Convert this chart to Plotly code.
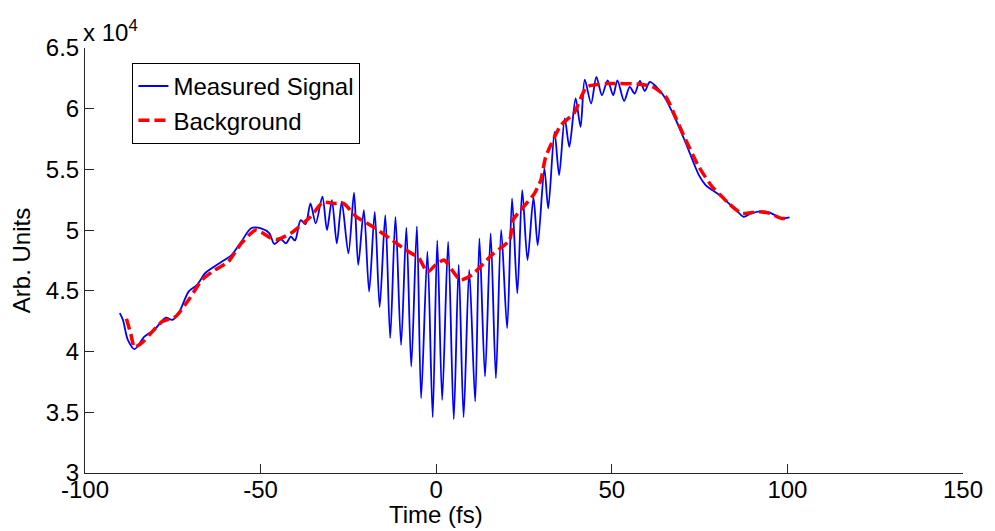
import plotly.graph_objects as go

# Measured signal: time in fs, signal in arb. units
time_measured = [
    -90.1, -89.2, -87.8, -85.9, -83.1, -80.3, -77.0, -75.2, -73.3, -70.5, -68.1, -65.8,
    -63.9, -61.1, -58.3, -55.5, -52.7, -49.9, -47.5, -46.1, -44.2, -42.8, -41.4, -40.2,
    -38.6, -37.2, -35.8, -34.3, -32.4, -31.1, -29.7, -28.3, -26.9, -25.0, -23.4, -22.2,
    -20.6, -19.1, -17.5, -16.1, -14.5, -13.1, -11.6, -10.0, -8.5, -7.1, -5.5, -4.3,
    -2.5, -1.0, 0.3, 1.7, 3.4, 5.0, 6.4, 7.8, 9.4, 11.1, 12.3, 13.9,
    15.5, 17.0, 18.5, 20.2, 21.6, 23.1, 24.5, 26.0, 27.7, 28.9, 30.8, 31.9,
    33.7, 35.0, 36.6, 37.9, 39.7, 41.1, 42.3, 44.1, 45.6, 47.2, 48.8, 50.4,
    51.6, 53.5, 55.1, 56.5, 58.0, 59.4, 60.8, 63.0, 65.0, 68.3, 71.1, 74.8,
    76.7, 78.6, 81.4, 83.3, 85.0, 87.5, 89.5, 91.7, 95.0, 98.3, 100.6,
]
signal_measured = [
    43160, 42610, 40960, 40200, 41230, 41780, 42800, 42610, 43160, 44940, 45490, 46450,
    46860, 47400, 47950, 49050, 50150, 50150, 49740, 48860, 49240, 48910, 49460, 49150,
    50830, 50500, 52200, 50560, 52750, 50010, 52480, 48910, 52340, 48090, 53080, 47130,
    51650, 44940, 51510, 43650, 51240, 41100, 51100, 40550, 50200, 38770, 50300, 36170,
    48220, 34600, 49160, 36030, 49050, 34440, 47130, 34600, 46720, 35890, 49330, 37950,
    49740, 37810, 50010, 41920, 52620, 44800, 53300, 47540, 52680, 48770, 55080, 51790,
    58090, 54530, 59200, 56860, 60840, 58500, 62400, 60430, 62620, 61110, 62340, 61110,
    62340, 60640, 61790, 61250, 62290, 61460, 62200, 61700, 60970, 59050, 57140, 54530,
    53710, 53300, 52750, 52200, 51800, 51100, 51350, 51520, 51450, 50970, 51050,
]

# Background estimate
time_background = [
    -88.2, -87.0, -85.9, -83.5, -81.7, -78.0, -74.2, -70.5, -66.7, -63.0, -59.2, -55.5,
    -51.3, -47.0, -45.2, -41.4, -35.8, -32.3, -29.0, -26.4, -22.7, -18.0, -13.3, -8.6,
    -4.9, -2.5, -0.2, 2.2, 4.5, 6.9, 10.2, 15.8, 20.9, 21.9, 26.1, 28.0,
    29.8, 31.2, 35.5, 39.2, 42.9, 48.6, 58.0, 61.7, 65.4, 68.3, 71.1, 74.8,
    78.6, 81.4, 83.3, 87.0, 91.7, 95.0, 98.3, 100.1,
]
background = [
    42700, 41500, 40350, 40800, 41370, 42470, 42880, 44250, 45900, 46720, 47400, 48910,
    50010, 49330, 49240, 49740, 51100, 52270, 52200, 52200, 51100, 50280, 49330, 48360,
    47680, 46550, 47130, 47540, 46700, 45900, 46310, 47950, 49190, 50830, 52340, 53030,
    54120, 56040, 58640, 59610, 61790, 62070, 62010, 61790, 60970, 59190, 57410, 55210,
    53570, 52750, 52200, 51380, 51520, 51380, 50970, 51020,
]

x_ticks = [-100, -50, 0, 50, 100, 150]
x_tick_labels = ["-100", "-50", "0", "50", "100", "150"]
y_ticks = [30000, 35000, 40000, 45000, 50000, 55000, 60000, 65000]
y_tick_labels = ["3", "3.5", "4", "4.5", "5", "5.5", "6", "6.5"]

FONT = "Liberation Sans, Arial, Helvetica, sans-serif"
FS = 24

fig = go.Figure()
fig.add_trace(go.Scatter(
    x=time_measured, y=signal_measured, mode="lines", name="Measured Signal",
    line=dict(color="#0000ff", width=1.8, shape="spline", smoothing=0.8),
))
fig.add_trace(go.Scatter(
    x=time_background, y=background, mode="lines", name="Background",
    line=dict(color="#ff0000", width=3.5, dash="11px,5px", shape="spline", smoothing=0.6),
))

axis_common = dict(
    showline=True, linecolor="#262626", linewidth=1,
    ticks="inside", ticklen=9, tickcolor="#262626", tickwidth=1,
    showgrid=False, zeroline=False, mirror=False,
    tickfont=dict(family=FONT, size=FS, color="#000"),
)

fig.update_xaxes(range=[-100, 150], tickvals=x_ticks, ticktext=x_tick_labels,
                 ticklabelstandoff=-5, **axis_common)
fig.update_yaxes(
    range=[30000, 65000], tickvals=y_ticks, ticktext=y_tick_labels,
    title=dict(text="Arb. Units", font=dict(family=FONT, size=FS, color="#000"), standoff=8),
    **axis_common,
)

fig.add_annotation(
    text="Time (fs)", xref="x", yref="paper", x=0, y=-0.135,
    xanchor="center", yanchor="bottom", showarrow=False,
    font=dict(family=FONT, size=FS, color="#000"),
)
fig.add_annotation(
    text="x 10<sup>4</sup>", xref="paper", yref="paper", x=-0.004, y=1.0,
    xanchor="left", yanchor="bottom", showarrow=False,
    font=dict(family=FONT, size=24, color="#000"),
)

fig.update_layout(
    width=995, height=531,
    margin=dict(l=85, r=21, t=48, b=58),
    paper_bgcolor="white", plot_bgcolor="white",
    showlegend=True,
    legend=dict(
        x=0.054, y=0.965, xanchor="left", yanchor="top",
        bgcolor="white", bordercolor="#000", borderwidth=1,
        font=dict(family=FONT, size=FS, color="#000"),
        itemwidth=30, tracegroupgap=0,
    ),
)

fig.write_html("out.html")
